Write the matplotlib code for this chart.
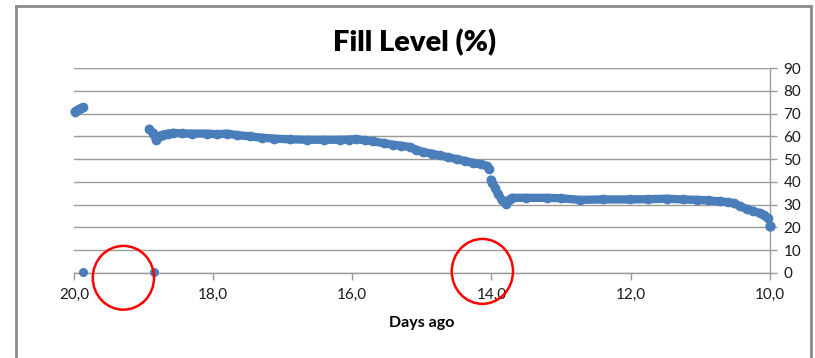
import numpy as np
import matplotlib.pyplot as plt
from matplotlib.patches import Ellipse
from matplotlib.lines import Line2D
from matplotlib.ticker import FuncFormatter

plt.rcParams['font.family'] = ['Lato', 'DejaVu Sans']

# fill level readings (days ago, %)
start_days = [19.99, 19.96, 19.93, 19.90, 19.87]
start_fill = [70.9, 71.4, 71.8, 72.3, 72.7]

zero_days = [19.87, 18.85]
zero_fill = [0.5, 0.5]

main_days = [18.92, 18.87, 18.82, 18.77, 18.72, 18.65, 18.57, 18.45, 18.30, 18.09,
             17.95, 17.80, 17.65, 17.47, 17.30, 17.13, 16.90, 16.65, 16.40,
             16.18, 16.05, 15.94, 15.82, 15.70, 15.55, 15.41, 15.30, 15.17,
             15.08, 14.98, 14.86, 14.74, 14.62, 14.50, 14.38, 14.26, 14.15,
             14.07, 14.03]
main_fill = [63.3, 61.5, 58.6, 60.2, 60.8, 61.2, 61.5, 61.3, 61.2, 61.2,
             60.9, 61.2, 60.5, 60.0, 59.4, 59.0, 58.7, 58.5, 58.5,
             58.5, 58.6, 58.8, 58.3, 57.8, 57.0, 56.3, 55.9, 55.3,
             54.1, 53.1, 52.4, 51.6, 50.8, 50.0, 49.2, 48.3, 47.7,
             47.1, 45.6]

late_days = [14.01, 13.99, 13.95, 13.90, 13.85, 13.79, 13.75, 13.71, 13.50,
             13.20, 13.00, 12.72, 12.40, 12.01, 11.75, 11.48, 11.25, 11.05,
             10.88, 10.71, 10.60, 10.52, 10.42, 10.33, 10.24, 10.14, 10.08, 10.03]
late_fill = [41.0, 39.7, 37.5, 34.5, 32.0, 30.1, 32.0, 33.0, 33.0,
             33.0, 32.8, 32.1, 32.3, 32.3, 32.4, 32.6, 32.3, 32.1,
             31.9, 31.4, 31.1, 30.7, 29.3, 28.0, 27.2, 26.3, 25.3, 24.0]

end_days = [10.0]
end_fill = [20.5]

x_ticks = [20, 18, 16, 14, 12, 10]
y_ticks = [0, 10, 20, 30, 40, 50, 60, 70, 80, 90]

# highlighted gaps: (center day, center %, width days, height %)
circles = [(19.29, -2.1, 0.88, 28.0), (14.13, 0.7, 0.88, 28.5)]

blue = '#4A7EBB'
grey = '#9a9a9a'

fig = plt.figure(figsize=(8.15, 3.58), dpi=100)

# chart frame
for xs, ys in [([15.5, 15.5], [-10, 352.5]), ([15.5, 811], [352.5, 352.5]), ([811, 811], [352.5, -10])]:
    fig.add_artist(Line2D(np.array(xs) / 815, np.array(ys) / 358, color='#8c8c8c', lw=2))

ax = fig.add_axes([74 / 815, 1 - 273 / 358, (769.7 - 74) / 815, (273 - 68) / 358])

for d, v in [(start_days, start_fill), (main_days, main_fill), (late_days, late_fill)]:
    ax.plot(d, v, color=blue, lw=6, marker='o', ms=6, solid_capstyle='round',
            solid_joinstyle='round', clip_on=False, zorder=3)
ax.plot(zero_days, zero_fill, 'o', color=blue, ms=5.5, clip_on=False, zorder=3)
ax.plot(end_days, end_fill, 'o', color=blue, ms=6.5, clip_on=False, zorder=3)

for cx, cy, w, h in circles:
    ax.add_patch(Ellipse((cx, cy), w, h, fill=False, edgecolor='#ff0000', lw=1.8, clip_on=False, zorder=4))

ax.set_xlim(20, 10)
ax.set_ylim(0, 90)
ax.set_xticks(x_ticks)
ax.set_yticks(y_ticks)
ax.xaxis.set_major_formatter(FuncFormatter(lambda v, p: f'{v:.1f}'.replace('.', ',')))

ax.yaxis.tick_right()
ax.grid(axis='y', color=grey, lw=1)
ax.set_axisbelow(True)
for s in ['top', 'left']:
    ax.spines[s].set_visible(False)
for s in ['right', 'bottom']:
    ax.spines[s].set_color(grey)
    ax.spines[s].set_linewidth(1)
ax.tick_params(axis='both', colors=grey, labelcolor='#1a1a1a', labelsize=11, length=5, width=1)
ax.tick_params(axis='x', pad=6)
ax.tick_params(axis='y', pad=5)

ax.set_xlabel('Days ago', fontsize=11.5, fontweight='bold', labelpad=10)
fig.text(415 / 815, 1 - 43 / 358, 'Fill Level (%)', fontsize=21, fontweight='heavy',
         ha='center', va='center')

fig.savefig('out.png', dpi=100)
